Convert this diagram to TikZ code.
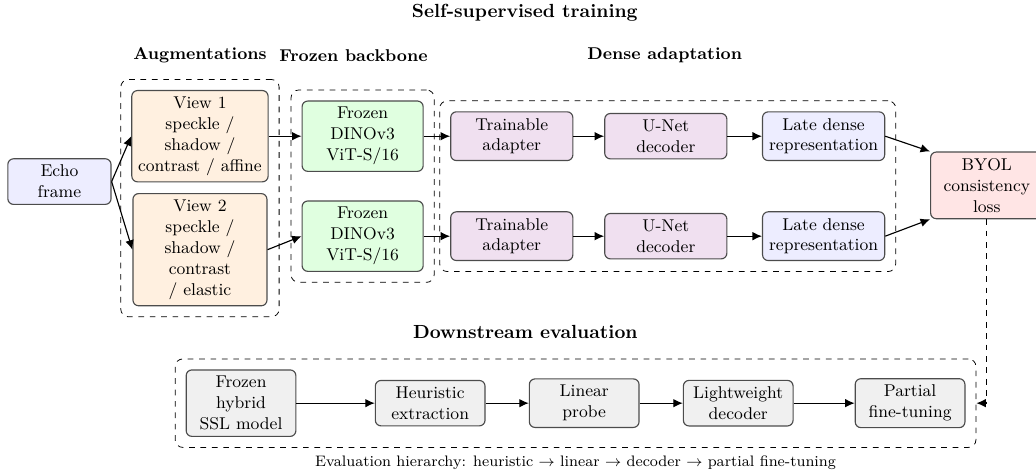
\documentclass[tikz,border=0pt]{standalone}
\usepackage{amsmath,amssymb}
\usepackage{tikz}
\usetikzlibrary{arrows.meta,positioning,fit}
\usepackage{xcolor}
\tikzset{
  block/.style={draw=black!70,semithick,rounded corners=3pt,align=center},
  viewnode/.style={block,fill=orange!12,minimum width=2.48cm},
  dinonode/.style={block,fill=green!12,minimum width=2.24cm},
  trainnode/.style={block,fill=violet!12,minimum width=2.26cm},
  reprnode/.style={block,fill=blue!7,minimum width=2.26cm},
  lossnode/.style={block,fill=red!10,minimum width=2.08cm},
  evalnode/.style={block,fill=gray!12,minimum width=2.03cm},
  groupbox/.style={draw=black,dashed,rounded corners=4pt,inner sep=5.5pt},
  heading/.style={font=\small\bfseries},
  every node/.style={font=\small}
}
\tikzstyle{arrow} = [semithick,-{Latex[length=5pt,width=4.5pt]}]

\begin{document}
\begin{tikzpicture}
  % --- Canvas ---
  \useasboundingbox (0,0) rectangle (19.17,-8.68);

  % --- Titles ---
  \node[font=\bfseries] (ssltitle) at (9.71,-0.24) {Self-supervised training};
  \node[heading] (augtitle) at (3.70,-1.02) {Augmentations};
  \node[heading] (bbtitle) at (6.54,-1.02) {Frozen backbone};
  \node[heading] (densetitle) at (12.30,-1.02) {Dense adaptation};
  \node[font=\bfseries] (evaltitle) at (9.72,-6.14) {Downstream evaluation};

  % --- Input and augmented views ---
  \node[block,fill=blue!7,minimum width=1.91cm] (echo) at (1.10,-3.36) {Echo\\frame};
  \node[viewnode] (view1) at (3.70,-2.52) {View 1\\speckle /\\shadow /\\contrast / affine};
  \node[viewnode] (view2) at (3.70,-4.62) {View 2\\speckle /\\shadow /\\contrast\\/ elastic};

  % --- Backbone and dense branches ---
  \foreach \i/\y in {1/-2.52,2/-4.37} {
    \node[dinonode] (dino\i) at (6.71,\y) {Frozen\\DINOv3\\ViT-S/16};
    \node[trainnode] (adapt\i) at (9.47,\y) {Trainable\\adapter};
    \node[trainnode] (unet\i) at (12.32,\y) {U-Net\\decoder};
    \node[reprnode] (late\i) at (15.24,\y) {Late dense\\representation};
  }
  \node[lossnode] (byol) at (18.26,-3.43) {BYOL\\consistency\\loss};

  % --- Evaluation ladder ---
  \node[evalnode] (frozenssl) at (4.46,-7.46) {Frozen\\hybrid\\SSL model};
  \node[evalnode] (heur) at (7.96,-7.46) {Heuristic\\extraction};
  \node[evalnode] (linprobe) at (10.81,-7.46) {Linear\\probe};
  \node[evalnode] (lightdec) at (13.66,-7.46) {Lightweight\\decoder};
  \node[evalnode] (partialft) at (16.84,-7.46) {Partial\\fine-tuning};

  % --- Groups ---
  \node[groupbox,fit=(view1)(view2)] (augbox) {};
  \node[groupbox,fit=(dino1)(dino2)] (bbbox) {};
  \node[groupbox,fit=(adapt1)(late2)] (densebox) {};
  \node[groupbox,fit=(frozenssl)(partialft)] (evalbox) {};
  \node[font=\footnotesize,below=0.5pt of evalbox] (hierarchy)
    {Evaluation hierarchy: heuristic $\rightarrow$ linear $\rightarrow$ decoder $\rightarrow$ partial fine-tuning};

  % --- Connections ---
  \draw[arrow] (echo.east) -- (view1.west);
  \draw[arrow] (echo.east) -- (view2.west);
  \draw[arrow] (view1.east) -- (dino1.west);
  \draw[arrow] (view2.east) -- (dino2.west);
  \foreach \i in {1,2} {
    \draw[arrow] (dino\i) -- (adapt\i);
    \draw[arrow] (adapt\i) -- (unet\i);
    \draw[arrow] (unet\i) -- (late\i);
  }
  \draw[arrow] (late1.east) -- (byol.north west);
  \draw[arrow] (late2.east) -- (byol.south west);
  \draw[arrow,dashed] (byol.south) |- (evalbox.east);

  \draw[arrow] (frozenssl) -- (heur);
  \draw[arrow] (heur) -- (linprobe);
  \draw[arrow] (linprobe) -- (lightdec);
  \draw[arrow] (lightdec) -- (partialft);

\end{tikzpicture}
\end{document}
